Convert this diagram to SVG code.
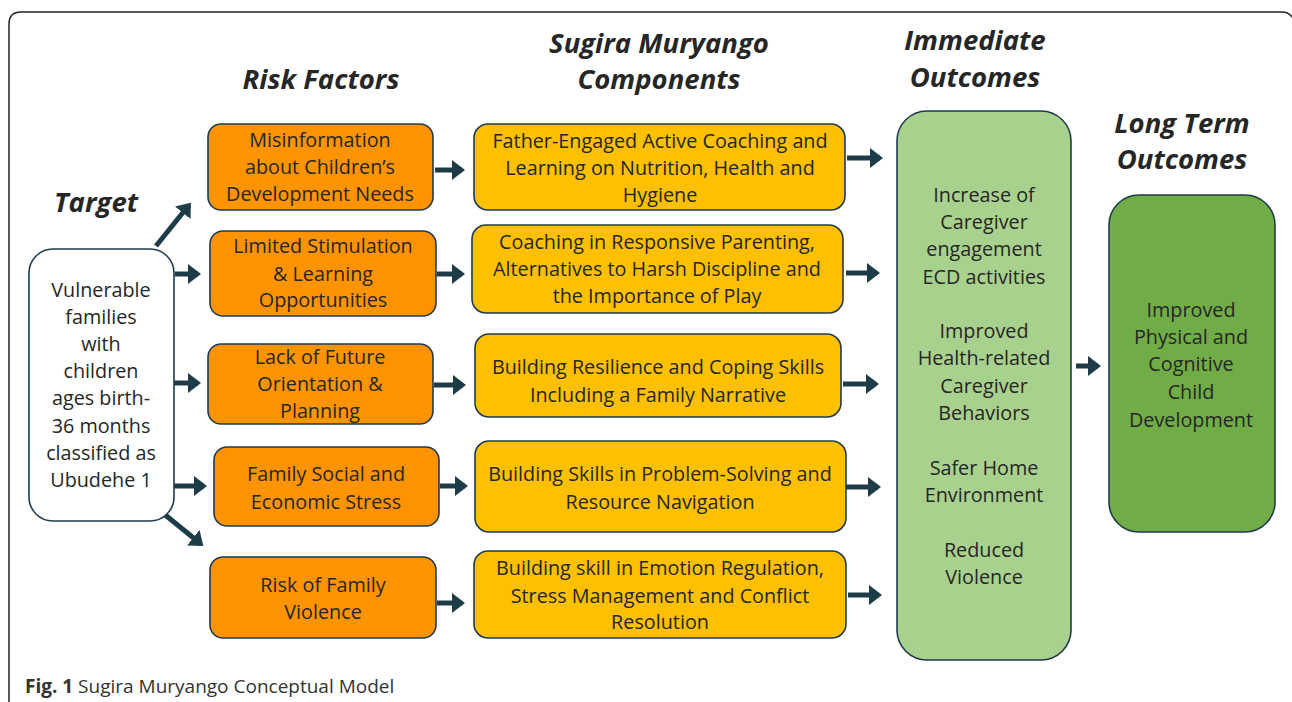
<svg xmlns="http://www.w3.org/2000/svg" width="1292" height="702" viewBox="0 0 1292 702">
<defs>
<marker id="ah" markerWidth="4" markerHeight="4" refX="2" refY="2" orient="auto" markerUnits="strokeWidth">
<path d="M0,0 L2.6,2 L0,4 Z" fill="#1d3c48"/>
</marker>
<style>
.t{font-family:"Open Sans","Liberation Sans",sans-serif;font-size:19.8px;fill:#262626;text-anchor:middle}
.h{font-family:"Open Sans","Liberation Sans",sans-serif;font-size:27.5px;font-weight:bold;font-style:italic;fill:#262626;text-anchor:middle}
.box{stroke:#1f3b4d;stroke-width:1.6}
.rf{fill:#ff9300}
.cp{fill:#ffc000}
.c{stroke:#1d3c48;stroke-width:5;fill:none;marker-end:url(#ah)}
</style>
</defs>
<rect width="1292" height="702" fill="#ffffff"/>
<path d="M9,702 V24 Q9,12 21,12 H1282 Q1290,12 1294,20" fill="none" stroke="#222" stroke-width="1.5"/>
<g id="headers">
<text class="h" x="96" y="212">Target</text>
<text class="h" x="321" y="89">Risk Factors</text>
<text class="h" x="659" y="53">Sugira Muryango</text>
<text class="h" x="659" y="89">Components</text>
<text class="h" x="975" y="50">Immediate</text>
<text class="h" x="975" y="87">Outcomes</text>
<text class="h" x="1182" y="133">Long Term</text>
<text class="h" x="1182" y="169">Outcomes</text>
</g>
<g id="connectors">
<line class="c" x1="156" y1="246" x2="189" y2="205"/>
<line class="c" x1="175" y1="274" x2="198" y2="274"/>
<line class="c" x1="173" y1="383" x2="198" y2="383"/>
<line class="c" x1="171" y1="486" x2="204" y2="486"/>
<line class="c" x1="164" y1="514" x2="201" y2="544"/>
<line class="c" x1="435" y1="170" x2="462" y2="170"/>
<line class="c" x1="437" y1="274" x2="462" y2="274"/>
<line class="c" x1="434" y1="385" x2="463" y2="385"/>
<line class="c" x1="440" y1="486" x2="465" y2="486"/>
<line class="c" x1="437" y1="603" x2="462" y2="603"/>
<line class="c" x1="847" y1="158" x2="880" y2="158"/>
<line class="c" x1="846" y1="273" x2="877" y2="273"/>
<line class="c" x1="843" y1="384" x2="876" y2="384"/>
<line class="c" x1="846" y1="487" x2="878" y2="487"/>
<line class="c" x1="848" y1="595" x2="879" y2="595"/>
<line class="c" x1="1076" y1="366" x2="1098" y2="366"/>
</g>
<g id="target">
<rect class="box" x="29" y="249" width="145" height="272" rx="24" fill="#fff"/>
<text class="t" x="101" y="297">Vulnerable</text>
<text class="t" x="101" y="324">families</text>
<text class="t" x="101" y="351">with</text>
<text class="t" x="101" y="378">children</text>
<text class="t" x="101" y="405">ages birth-</text>
<text class="t" x="101" y="433">36 months</text>
<text class="t" x="101" y="460">classified as</text>
<text class="t" x="101" y="487">Ubudehe 1</text>
</g>
<g id="rf1">
<rect class="box rf" x="208" y="124" width="225" height="86" rx="13"/>
<text class="t" x="320" y="147">Misinformation</text>
<text class="t" x="320" y="174">about Children’s</text>
<text class="t" x="320" y="201">Development Needs</text>
</g>
<g id="rf2">
<rect class="box rf" x="210" y="231" width="226" height="85" rx="13"/>
<text class="t" x="323" y="253">Limited Stimulation</text>
<text class="t" x="323" y="281">&amp; Learning</text>
<text class="t" x="323" y="307">Opportunities</text>
</g>
<g id="rf3">
<rect class="box rf" x="208" y="344" width="225" height="80" rx="13"/>
<text class="t" x="320" y="364">Lack of Future</text>
<text class="t" x="320" y="391">Orientation &amp;</text>
<text class="t" x="320" y="418">Planning</text>
</g>
<g id="rf4">
<rect class="box rf" x="214" y="447" width="225" height="79" rx="13"/>
<text class="t" x="326" y="481">Family Social and</text>
<text class="t" x="326" y="509">Economic Stress</text>
</g>
<g id="rf5">
<rect class="box rf" x="210" y="557" width="226" height="81" rx="13"/>
<text class="t" x="323" y="592">Risk of Family</text>
<text class="t" x="323" y="619">Violence</text>
</g>
<g id="cp1">
<rect class="box cp" x="474" y="124" width="371" height="86" rx="14"/>
<text class="t" x="660" y="148">Father-Engaged Active Coaching and</text>
<text class="t" x="660" y="175">Learning on Nutrition, Health and</text>
<text class="t" x="660" y="202">Hygiene</text>
</g>
<g id="cp2">
<rect class="box cp" x="472" y="225" width="371" height="88" rx="14"/>
<text class="t" x="657" y="249">Coaching in Responsive Parenting,</text>
<text class="t" x="657" y="276">Alternatives to Harsh Discipline and</text>
<text class="t" x="657" y="303">the Importance of Play</text>
</g>
<g id="cp3">
<rect class="box cp" x="475" y="334" width="366" height="83" rx="14"/>
<text class="t" x="658" y="374">Building Resilience and Coping Skills</text>
<text class="t" x="658" y="402">Including a Family Narrative</text>
</g>
<g id="cp4">
<rect class="box cp" x="475" y="441" width="371" height="91" rx="14"/>
<text class="t" x="660" y="481">Building Skills in Problem-Solving and</text>
<text class="t" x="660" y="509">Resource Navigation</text>
</g>
<g id="cp5">
<rect class="box cp" x="474" y="551" width="372" height="87" rx="14"/>
<text class="t" x="660" y="575">Building skill in Emotion Regulation,</text>
<text class="t" x="660" y="603">Stress Management and Conflict</text>
<text class="t" x="660" y="629">Resolution</text>
</g>
<g id="immediate">
<rect class="box" x="897" y="111" width="174" height="549" rx="30" fill="#a9d18e"/>
<text class="t" x="984" y="202">Increase of</text>
<text class="t" x="984" y="229">Caregiver</text>
<text class="t" x="984" y="256">engagement</text>
<text class="t" x="984" y="284">ECD activities</text>
<text class="t" x="984" y="338">Improved</text>
<text class="t" x="984" y="365">Health-related</text>
<text class="t" x="984" y="393">Caregiver</text>
<text class="t" x="984" y="420">Behaviors</text>
<text class="t" x="984" y="475">Safer Home</text>
<text class="t" x="984" y="502">Environment</text>
<text class="t" x="984" y="557">Reduced</text>
<text class="t" x="984" y="584">Violence</text>
</g>
<g id="longterm">
<rect class="box" x="1109" y="195" width="166" height="337" rx="30" fill="#70ad47"/>
<text class="t" x="1191" y="317">Improved</text>
<text class="t" x="1191" y="344">Physical and</text>
<text class="t" x="1191" y="371">Cognitive</text>
<text class="t" x="1191" y="399">Child</text>
<text class="t" x="1191" y="427">Development</text>
</g>
<text x="25" y="693" font-family="'Open Sans','Liberation Sans',sans-serif" font-size="19" fill="#333"><tspan font-weight="bold">Fig. 1</tspan> Sugira Muryango Conceptual Model</text>
</svg>
